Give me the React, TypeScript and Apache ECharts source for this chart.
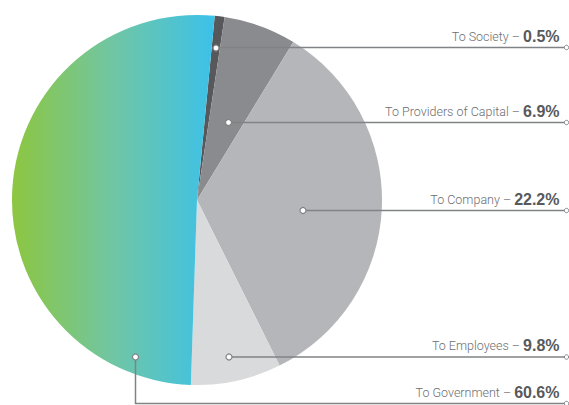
import React, { useEffect, useRef } from "react";
import * as echarts from "echarts";

// Category names and the percentages printed in the callouts
const categories = ["To Society", "To Providers of Capital", "To Company", "To Employees", "To Government"];
const labelPercents = ["0.5%", "6.9%", "22.2%", "9.8%", "60.6%"];
// Slice sizes as drawn in the picture (angular share, %)
const sliceValues = [0.86, 6.33, 33.92, 7.89, 51.0];

// Callout layout (anchor dot, line y); pixel layout only
const callouts = [
  { dot: [216, 48], lineY: 47.5 },
  { dot: [228.5, 122.5], lineY: 122.5 },
  { dot: [303, 210.5], lineY: 210.5 },
  { dot: [229, 357], lineY: 357 },
  { dot: [135.5, 357], lineY: 403.5 },
];

const LINE_COLOR = "#808285";
const LINE_END_X = 565;
const TEXT_RIGHT_X = 559.5;

export default function App() {
  const ref = useRef<HTMLDivElement>(null);

  useEffect(() => {
    if (!ref.current) return;
    const chart = echarts.init(ref.current, undefined, { renderer: "svg" });

    const colors: any[] = [
      "#57585b",
      "#8a8b8e",
      "#b5b6b9",
      "#d9dadc",
      {
        type: "linear",
        x: 0,
        y: 0,
        x2: 1,
        y2: 0,
        colorStops: [
          { offset: 0, color: "#8dc640" },
          { offset: 0.5, color: "#70c6a4" },
          { offset: 1, color: "#3cc1ea" },
        ],
      },
    ];

    const graphics: any[] = [];
    callouts.forEach((c, i) => {
      const [dx, dy] = c.dot;
      const pts =
        c.lineY === dy
          ? [
              [dx, dy],
              [LINE_END_X, dy],
            ]
          : [
              [dx, dy],
              [dx, c.lineY],
              [LINE_END_X, c.lineY],
            ];
      graphics.push({
        type: "polyline",
        shape: { points: pts },
        style: { stroke: LINE_COLOR, lineWidth: 1.5, fill: null },
        z: 10,
      });
      graphics.push({
        type: "circle",
        shape: { cx: dx, cy: dy, r: 3 },
        style: { fill: "#ffffff", stroke: LINE_COLOR, lineWidth: 1.2 },
        z: 11,
      });
      graphics.push({
        type: "circle",
        shape: { cx: LINE_END_X + 1.5, cy: c.lineY, r: 2.2 },
        style: { fill: "#ffffff", stroke: LINE_COLOR, lineWidth: 1 },
        z: 11,
      });
      graphics.push({
        type: "text",
        x: TEXT_RIGHT_X,
        y: c.lineY - 3.5,
        z: 12,
        style: {
          text: `{a|${categories[i]} – }{b|${labelPercents[i]}}`,
          align: "right",
          verticalAlign: "bottom",
          rich: {
            a: {
              fontFamily: "Roboto",
              fontWeight: 300,
              fontSize: 12.5,
              fill: "#6d6e71",
              color: "#6d6e71",
            },
            b: {
              fontFamily: "Liberation Sans",
              fontWeight: "bold",
              fontSize: 16,
              fill: "#58595b",
              color: "#58595b",
            },
          },
        },
      });
    });

    chart.setOption({
      animation: false,
      series: [
        {
          type: "pie",
          center: [197, 200],
          radius: [0, 185],
          startAngle: 84.5,
          clockwise: true,
          label: { show: false },
          labelLine: { show: false },
          silent: true,
          data: categories.map((name, i) => ({
            name,
            value: sliceValues[i],
            itemStyle: { color: colors[i], borderWidth: 0 },
          })),
        },
      ],
      graphic: graphics,
    });

    return () => chart.dispose();
  }, []);

  return (
    <div
      ref={ref}
      style={{ position: "fixed", left: 0, top: 0, width: 569, height: 405, background: "#ffffff" }}
    />
  );
}
